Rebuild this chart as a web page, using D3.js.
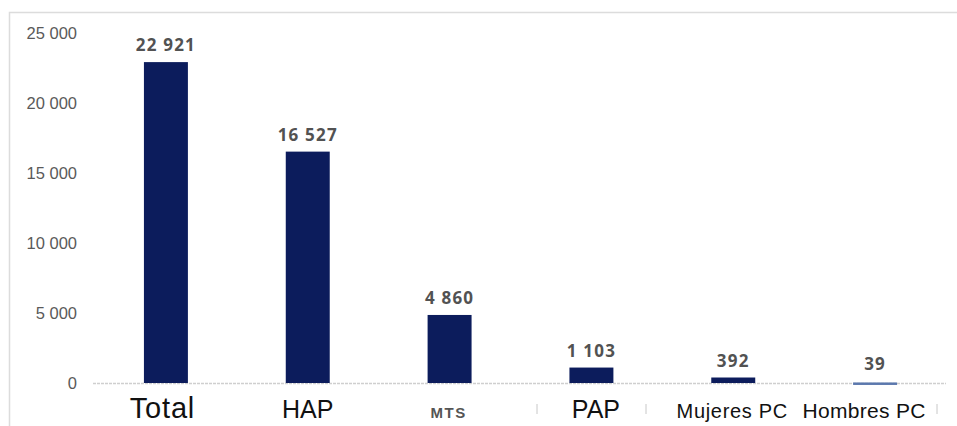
<!DOCTYPE html>
<html>
<head>
<meta charset="utf-8">
<script src="https://cdn.jsdelivr.net/npm/d3@7"></script>
<style>
  body { margin: 0; background: #fff; }
  svg { display: block; font-family: 'Open Sans', 'Liberation Sans', sans-serif; }
</style>
</head>
<body>
<div id="chart"></div>
<script>
const categories = ['Total', 'HAP', 'MTS', 'PAP', 'Mujeres PC', 'Hombres PC'];
const values = [22921, 16527, 4860, 1103, 392, 39];
const yTicks = [0, 5000, 10000, 15000, 20000, 25000];

// the labels in the source picture are all different sizes
const catStyle = {
  'Total': { size: 29, weight: 400, color: '#111', dx: -3.5, ls: 0.8 },
  'HAP': { size: 25, weight: 400, color: '#111', dx: 0, ls: 0 },
  'MTS': { size: 15, weight: 700, color: '#555', dx: -1, ls: 1.5 },
  'PAP': { size: 25, weight: 400, color: '#111', dx: 4.5, ls: 0 },
  'Mujeres PC': { size: 20, weight: 400, color: '#111', dx: -1, ls: 0.7 },
  'Hombres PC': { size: 21, weight: 400, color: '#111', dx: -11, ls: 0.3 }
};

const width = 957, height = 426;
const fmt = d3.formatLocale({ decimal: ',', thousands: ' ', grouping: [3], currency: ['', ''] }).format(',d');

const svg = d3.select('#chart').append('svg')
  .attr('width', width)
  .attr('height', height);

// frame
svg.append('path')
  .attr('d', 'M9.5,426 V12.5 H957')
  .attr('fill', 'none')
  .attr('stroke', '#dcdcdc')
  .attr('stroke-width', 1.5);

const x = d3.scaleBand()
  .domain(categories)
  .range([95, 946])
  .paddingInner(0.69)
  .paddingOuter(0.345);

const y = d3.scaleLinear()
  .domain([0, 25000])
  .range([383, 33]);

// y axis labels
const yAxis = svg.append('g')
  .attr('transform', 'translate(77,0)')
  .call(d3.axisLeft(y).tickValues(yTicks).tickFormat(fmt).tickSize(0).tickPadding(0));
yAxis.select('.domain').remove();
yAxis.selectAll('text')
  .attr('fill', '#5a5a5a')
  .attr('font-size', 16.5)
  .attr('letter-spacing', '0px');

// baseline
svg.append('line')
  .attr('x1', 93).attr('x2', 946)
  .attr('y1', y(0) + 0.5).attr('y2', y(0) + 0.5)
  .attr('stroke', '#cfcfcf')
  .attr('stroke-width', 1.5)
  .attr('stroke-dasharray', '3,1');

// bars
svg.selectAll('rect.bar')
  .data(values)
  .join('rect')
  .attr('class', 'bar')
  .attr('x', (d, i) => x(categories[i]))
  .attr('width', x.bandwidth())
  .attr('y', d => y(d))
  .attr('height', d => Math.max(y(0) - y(d), 2.5))
  .attr('fill', (d, i) => i === 5 ? '#5b78ad' : '#0c1c5c');

// value labels
svg.selectAll('text.val')
  .data(values)
  .join('text')
  .attr('class', 'val')
  .attr('x', (d, i) => x(categories[i]) + x.bandwidth() / 2)
  .attr('y', d => Math.min(y(d), y(0) - 2.5) - 11)
  .attr('text-anchor', 'middle')
  .attr('font-size', 17)
  .attr('font-weight', 700)
  .attr('letter-spacing', '1.2px')
  .attr('fill', '#525252')
  .text(d => fmt(d));

// category labels
const xAxis = svg.append('g')
  .attr('transform', `translate(0,${y(0)})`)
  .call(d3.axisBottom(x).tickSize(0).tickPadding(0));
xAxis.select('.domain').remove();
xAxis.selectAll('text')
  .attr('dy', null)
  .attr('y', 34.5)
  .attr('x', d => catStyle[d].dx)
  .attr('font-size', d => catStyle[d].size)
  .attr('font-weight', d => catStyle[d].weight)
  .attr('letter-spacing', d => catStyle[d].ls + 'px')
  .attr('fill', d => catStyle[d].color);

// little separators under the axis
svg.selectAll('line.sep')
  .data([537, 646, 937])
  .join('line')
  .attr('class', 'sep')
  .attr('x1', d => d).attr('x2', d => d)
  .attr('y1', 404).attr('y2', 414)
  .attr('stroke', '#c8c8c8');
</script>
</body>
</html>
